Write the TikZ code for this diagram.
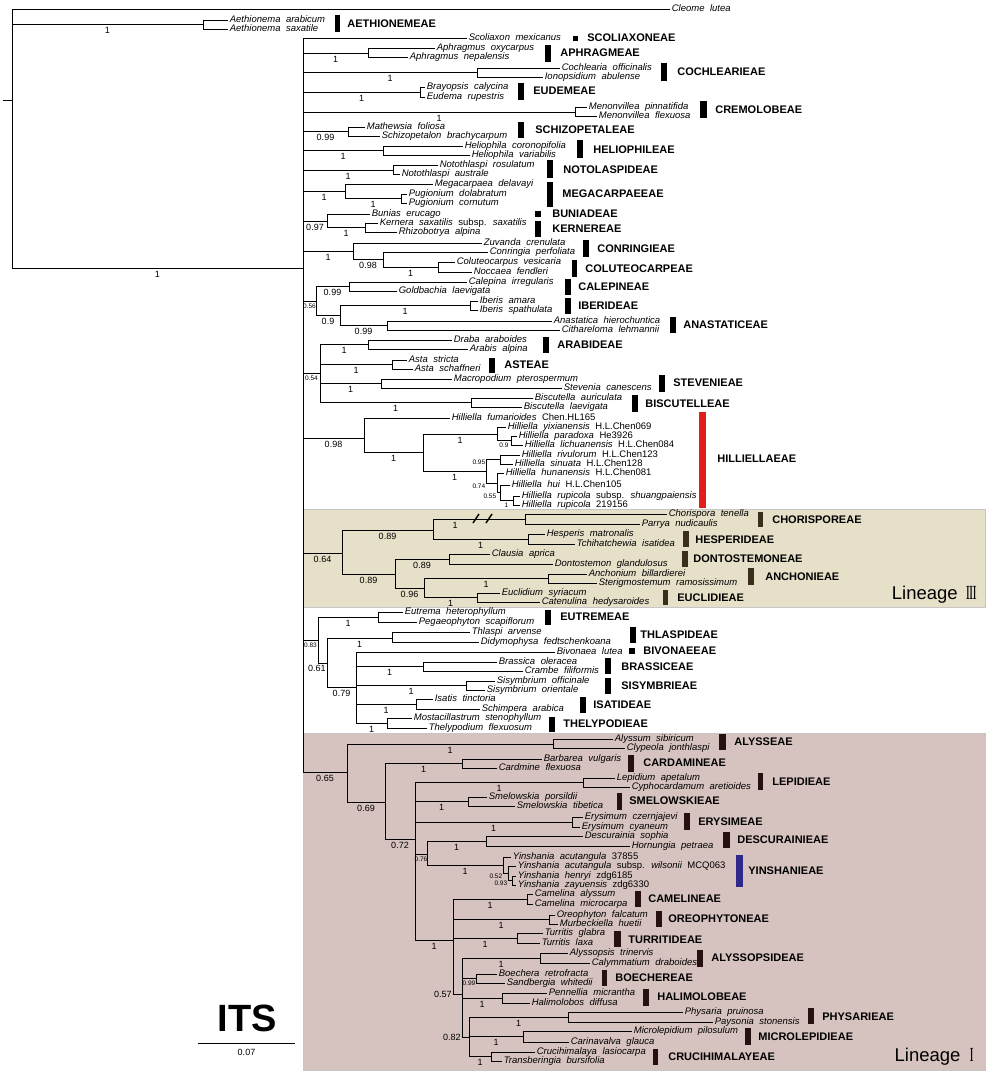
\documentclass[tikz,border=0pt]{standalone}
\usepackage{fontspec}
\setmainfont{Liberation Sans}
\newfontfamily\numfont{Liberation Serif}
\definecolor{boxIII}{RGB}{230,224,201}
\definecolor{boxI}{RGB}{214,195,192}
\definecolor{barIII}{RGB}{58,47,24}
\definecolor{barI}{RGB}{38,16,16}
\definecolor{hilred}{RGB}{226,30,28}
\definecolor{yinblue}{RGB}{48,40,138}
\newcommand{\ssp}{{\upshape subsp.}}
\newcommand{\vouch}[1]{{\upshape #1}}
\newcommand{\spfont}{\fontsize{9.5}{10}\selectfont\itshape\spaceskip 5.5pt plus 1pt\relax}
\newcommand{\linnum}[1]{{\numfont\fontsize{20}{21}\selectfont\scalebox{0.62}[1]{#1}}}
\tikzset{sp/.style={anchor=west, inner sep=1.5pt, text height=6.6pt, text depth=2pt, font=\spfont},
  tribe/.style={anchor=west, inner sep=0pt, font=\fontsize{11}{12}\selectfont\bfseries},
  bs/.style={pos=.75, below=1.5pt, inner sep=1pt, font=\fontsize{9}{10}\selectfont},
  bss/.style={bs, font=\fontsize{6.5}{7}\selectfont},
  bsl/.style={pos=.5, anchor=north east, inner sep=0.5pt, font=\fontsize{6.5}{7}\selectfont},
  bsw/.style={pos=.5, anchor=east, inner sep=1pt, font=\fontsize{9}{10}\selectfont},
  tbar/.style={fill=black}, lbox/.style={draw=gray!45, line width=1pt},
  lin/.style={anchor=east, inner sep=0pt, font=\fontsize{18.5}{20}\selectfont},
  brk/.style={line width=1.5pt}}

\begin{document}
\begin{tikzpicture}[x=1pt, y=-1pt, line width=0.7pt]
\useasboundingbox (0,0) rectangle (1008,1084);
\fill[boxIII, lbox] (303,509) rectangle (985,607);
\fill[boxI, lbox] (303,733) rectangle (985,1070);
\node[lin] (LIII) at (977,595) {Lineage\hspace{8pt}\linnum{I\kern-1.2pt I\kern-1.2pt I}};
\node[lin] (LI) at (974,1057) {Lineage\hspace{9pt}\linnum{I}};

\coordinate (base) at (3,100);
\coordinate (root) at (12,100);
\draw (base) -- (root);
\node[sp] (cle) at (670,9) {Cleome lutea};
\draw (root) |- (cle.west);
\coordinate (aeth) at (203,24);
\draw (root) |- (aeth) node[bs]{1};
\node[sp] (aeth1) at (228,20) {Aethionema arabicum};
\node[sp] (aeth2) at (228,29) {Aethionema saxatile};
\draw (aeth) |- (aeth1.west);
\draw (aeth) |- (aeth2.west);
\coordinate (core) at (303,268);
\draw (root) |- (core) node[bs]{1};

\node[sp] (scol) at (467,38) {Scoliaxon mexicanus};
\draw (core) |- (scol.west);
\coordinate (aph) at (368,53);
\draw (core) |- (aph) node[bs]{1};
\node[sp] (aph1) at (435,48) {Aphragmus oxycarpus};
\node[sp] (aph2) at (408,57) {Aphragmus nepalensis};
\draw (aph) |- (aph1.west);
\draw (aph) |- (aph2.west);
\coordinate (coch) at (477,72);
\draw (core) |- (coch) node[bs]{1};
\node[sp] (coch1) at (560,68) {Cochlearia officinalis};
\node[sp] (coch2) at (543,77) {Ionopsidium abulense};
\draw (coch) |- (coch1.west);
\draw (coch) |- (coch2.west);
\coordinate (eud) at (420,92);
\draw (core) |- (eud) node[bs]{1};
\node[sp] (eud1) at (425,87) {Brayopsis calycina};
\node[sp] (eud2) at (425,97) {Eudema rupestris};
\draw (eud) |- (eud1.west);
\draw (eud) |- (eud2.west);
\coordinate (men) at (575,112);
\draw (core) |- (men) node[bs]{1};
\node[sp] (men1) at (587,107) {Menonvillea pinnatifida};
\node[sp] (men2) at (597,116) {Menonvillea flexuosa};
\draw (men) |- (men1.west);
\draw (men) |- (men2.west);
\coordinate (sch) at (348,131);
\draw (core) |- (sch) node[bs]{0.99};
\node[sp] (sch1) at (365,127) {Mathewsia foliosa};
\node[sp] (sch2) at (380,136) {Schizopetalon brachycarpum};
\draw (sch) |- (sch1.west);
\draw (sch) |- (sch2.west);
\coordinate (hel) at (383,150);
\draw (core) |- (hel) node[bs]{1};
\node[sp] (hel1) at (463,146) {Heliophila coronopifolia};
\node[sp] (hel2) at (470,155) {Heliophila variabilis};
\draw (hel) |- (hel1.west);
\draw (hel) |- (hel2.west);
\coordinate (not) at (393,170);
\draw (core) |- (not) node[bs]{1};
\node[sp] (not1) at (438,165) {Notothlaspi rosulatum};
\node[sp] (not2) at (400,174) {Notothlaspi australe};
\draw (not) |- (not1.west);
\draw (not) |- (not2.west);
\coordinate (meg) at (345,191);
\draw (core) |- (meg) node[bs]{1};
\node[sp] (meg1) at (433,184) {Megacarpaea delavayi};
\draw (meg) |- (meg1.west);
\coordinate (pug) at (401,198.5);
\draw (meg) |- (pug) node[bs]{1};
\node[sp] (pug1) at (407,194) {Pugionium dolabratum};
\node[sp] (pug2) at (407,203) {Pugionium cornutum};
\draw (pug) |- (pug1.west);
\draw (pug) |- (pug2.west);
\coordinate (bk) at (327,221);
\draw (core) |- (bk) node[bs]{0.97};
\node[sp] (bun) at (370,214) {Bunias erucago};
\draw (bk) |- (bun.west);
\coordinate (ker) at (365,227.5);
\draw (bk) |- (ker) node[bs]{1};
\node[sp] (ker1) at (378,223) {Kernera saxatilis \ssp{} saxatilis};
\node[sp] (ker2) at (397,232) {Rhizobotrya alpina};
\draw (ker) |- (ker1.west);
\draw (ker) |- (ker2.west);
\coordinate (conr) at (353,251);
\draw (core) |- (conr) node[bs]{1};
\node[sp] (zuv) at (482,243) {Zuvanda crenulata};
\draw (conr) |- (zuv.west);
\coordinate (c98) at (383,259.5);
\draw (conr) |- (c98) node[bs]{0.98};
\node[sp] (con) at (488,252) {Conringia perfoliata};
\draw (c98) |- (con.west);
\coordinate (col) at (438,267);
\draw (c98) |- (col) node[bs]{1};
\node[sp] (col1) at (455,262) {Coluteocarpus vesicaria};
\node[sp] (col2) at (472,272) {Noccaea fendleri};
\draw (col) |- (col1.west);
\draw (col) |- (col2.west);
\coordinate (c56) at (316,301);
\draw (core) |- (c56) node[bss]{0.56};
\coordinate (cal) at (349,286.5);
\draw (c56) |- (cal) node[bs]{0.99};
\node[sp] (cal1) at (467,282) {Calepina irregularis};
\node[sp] (cal2) at (397,291) {Goldbachia laevigata};
\draw (cal) |- (cal1.west);
\draw (cal) |- (cal2.west);
\coordinate (c90) at (340,315.5);
\draw (c56) |- (c90) node[bs]{0.9};
\coordinate (ibe) at (470,305.5);
\draw (c90) |- (ibe) node[bs]{1};
\node[sp] (ibe1) at (478,301) {Iberis amara};
\node[sp] (ibe2) at (478,310) {Iberis spathulata};
\draw (ibe) |- (ibe1.west);
\draw (ibe) |- (ibe2.west);
\coordinate (ana) at (387,325.5);
\draw (c90) |- (ana) node[bs]{0.99};
\node[sp] (ana1) at (552,321) {Anastatica hierochuntica};
\node[sp] (ana2) at (560,330) {Cithareloma lehmannii};
\draw (ana) |- (ana1.west);
\draw (ana) |- (ana2.west);
\coordinate (c54) at (320,373.5);
\draw (core) |- (c54) node[bss]{0.54};
\coordinate (ara) at (368,344.5);
\draw (c54) |- (ara) node[bs]{1};
\node[sp] (ara1) at (452,340) {Draba araboides};
\node[sp] (ara2) at (468,349) {Arabis alpina};
\draw (ara) |- (ara1.west);
\draw (ara) |- (ara2.west);
\coordinate (ast) at (392,364.5);
\draw (c54) |- (ast) node[bs]{1};
\node[sp] (ast1) at (407,360) {Asta stricta};
\node[sp] (ast2) at (413,369) {Asta schaffneri};
\draw (ast) |- (ast1.west);
\draw (ast) |- (ast2.west);
\coordinate (ste) at (381,383.5);
\draw (c54) |- (ste) node[bs]{1};
\node[sp] (ste1) at (452,379) {Macropodium pterospermum};
\node[sp] (ste2) at (562,388) {Stevenia canescens};
\draw (ste) |- (ste1.west);
\draw (ste) |- (ste2.west);
\coordinate (bis) at (471,402.5);
\draw (c54) |- (bis) node[bs]{1};
\node[sp] (bis1) at (533,398) {Biscutella auriculata};
\node[sp] (bis2) at (522,407) {Biscutella laevigata};
\draw (bis) |- (bis1.west);
\draw (bis) |- (bis2.west);

\coordinate (hil) at (364,438);
\draw (core) |- (hil) node[bs]{0.98};
\node[sp] (hil1) at (450,418) {Hilliella fumarioides \vouch{Chen.HL165}};
\draw (hil) |- (hil1.west);
\coordinate (hin) at (423,452.5);
\draw (hil) |- (hin) node[bs]{1};
\coordinate (ha) at (497,434);
\draw (hin) |- (ha) node[bs]{1};
\node[sp] (hil2) at (506,427) {Hilliella yixianensis \vouch{H.L.Chen069}};
\draw (ha) |- (hil2.west);
\coordinate (ha2) at (511,440.5);
\draw (ha) |- (ha2) node[bss]{0.9};
\node[sp] (hil3) at (517,436) {Hilliella paradoxa \vouch{He3926}};
\node[sp] (hil4) at (523,445) {Hilliella lichuanensis \vouch{H.L.Chen084}};
\draw (ha2) |- (hil3.west);
\draw (ha2) |- (hil4.west);
\coordinate (hb) at (486,471);
\draw (hin) |- (hb) node[bs]{1};
\coordinate (hb1) at (500,459.5);
\draw (hb) |- (hb1) node[bsl]{0.95};
\node[sp] (hil5) at (520,455) {Hilliella rivulorum \vouch{H.L.Chen123}};
\node[sp] (hil6) at (513,464) {Hilliella sinuata \vouch{H.L.Chen128}};
\draw (hb1) |- (hil5.west);
\draw (hb1) |- (hil6.west);
\coordinate (hb2) at (497,483);
\draw (hb) |- (hb2) node[bsl]{0.74};
\node[sp] (hil7) at (504,473) {Hilliella hunanensis \vouch{H.L.Chen081}};
\draw (hb2) |- (hil7.west);
\coordinate (hb3) at (500,492.75);
\draw (hb2) |- (hb3) node[bsl]{0.55};
\node[sp] (hil8) at (510,485) {Hilliella hui \vouch{H.L.Chen105}};
\draw (hb3) |- (hil8.west);
\coordinate (hb4) at (513,500.5);
\draw (hb3) |- (hb4) node[bss]{1};
\node[sp] (hil9) at (520,496) {Hilliella rupicola \ssp{} shuangpaiensis};
\node[sp] (hil10) at (520,505) {Hilliella rupicola \vouch{219156}};
\draw (hb4) |- (hil9.west);
\draw (hb4) |- (hil10.west);

\coordinate (c64) at (342,553);
\draw (core) |- (c64) node[bs]{0.64};
\coordinate (c89a) at (433,530);
\draw (c64) |- (c89a) node[bs]{0.89};
\coordinate (cho) at (525,519);
\draw (c89a) |- (cho) node[bs, pos=.62]{1};
\draw[brk] (473,523) -- (479,514);
\draw[brk] (486,523) -- (492,514);
\node[sp] (cho1) at (667,514) {Chorispora tenella};
\node[sp] (cho2) at (640,524) {Parrya nudicaulis};
\draw (cho) |- (cho1.west);
\draw (cho) |- (cho2.west);
\coordinate (hes) at (528,539);
\draw (c89a) |- (hes) node[bs]{1};
\node[sp] (hes1) at (545,534) {Hesperis matronalis};
\node[sp] (hes2) at (575,544) {Tchihatchewia isatidea};
\draw (hes) |- (hes1.west);
\draw (hes) |- (hes2.west);
\coordinate (c89b) at (395,574);
\draw (c64) |- (c89b) node[bs]{0.89};
\coordinate (don) at (449,559);
\draw (c89b) |- (don) node[bs]{0.89};
\node[sp] (don1) at (490,554) {Clausia aprica};
\node[sp] (don2) at (553,564) {Dontostemon glandulosus};
\draw (don) |- (don1.west);
\draw (don) |- (don2.west);
\coordinate (c96) at (424,588);
\draw (c89b) |- (c96) node[bs]{0.96};
\coordinate (anc) at (548,578.5);
\draw (c96) |- (anc) node[bs]{1};
\node[sp] (anc1) at (587,574) {Anchonium billardierei};
\node[sp] (anc2) at (597,583) {Sterigmostemum ramosissimum};
\draw (anc) |- (anc1.west);
\draw (anc) |- (anc2.west);
\coordinate (euc) at (477,597.5);
\draw (c96) |- (euc) node[bs]{1};
\node[sp] (euc1) at (500,593) {Euclidium syriacum};
\node[sp] (euc2) at (540,602) {Catenulina hedysaroides};
\draw (euc) |- (euc1.west);
\draw (euc) |- (euc2.west);

\coordinate (c83) at (318,640);
\draw (core) |- (c83) node[bss]{0.83};
\coordinate (eut) at (378,617);
\draw (c83) |- (eut) node[bs]{1};
\node[sp] (eut1) at (403,612) {Eutrema heterophyllum};
\node[sp] (eut2) at (417,622) {Pegaeophyton scapiflorum};
\draw (eut) |- (eut1.west);
\draw (eut) |- (eut2.west);
\coordinate (c61) at (327,663);
\draw (c83) |- (c61) node[pos=1, anchor=north east, inner sep=1pt, yshift=-1pt, font=\fontsize{9}{10}\selectfont]{0.61};
\coordinate (thl) at (392,638);
\draw (c61) |- (thl) node[bs]{1};
\node[sp] (thl1) at (470,632) {Thlaspi arvense};
\node[sp] (thl2) at (479,642) {Didymophysa fedtschenkoana};
\draw (thl) |- (thl1.west);
\draw (thl) |- (thl2.west);
\coordinate (c79) at (356,687);
\draw (c61) |- (c79) node[bs]{0.79};
\node[sp] (biv) at (555,652) {Bivonaea lutea};
\draw (c79) |- (biv.west);
\coordinate (bra) at (423,666.5);
\draw (c79) |- (bra) node[bs]{1};
\node[sp] (bra1) at (497,662) {Brassica oleracea};
\node[sp] (bra2) at (523,671) {Crambe filiformis};
\draw (bra) |- (bra1.west);
\draw (bra) |- (bra2.west);
\coordinate (sis) at (466,685);
\draw (c79) |- (sis) node[bs]{1};
\node[sp] (sis1) at (495,681) {Sisymbrium officinale};
\node[sp] (sis2) at (485,690) {Sisymbrium orientale};
\draw (sis) |- (sis1.west);
\draw (sis) |- (sis2.west);
\coordinate (isa) at (416,704);
\draw (c79) |- (isa) node[bs]{1};
\node[sp] (isa1) at (433,699) {Isatis tinctoria};
\node[sp] (isa2) at (480,709) {Schimpera arabica};
\draw (isa) |- (isa1.west);
\draw (isa) |- (isa2.west);
\coordinate (the) at (387,723);
\draw (c79) |- (the) node[bs]{1};
\node[sp] (the1) at (412,718) {Mostacillastrum stenophyllum};
\node[sp] (the2) at (427,728) {Thelypodium flexuosum};
\draw (the) |- (the1.west);
\draw (the) |- (the2.west);

\coordinate (c65) at (347,772);
\draw (core) |- (c65) node[bs]{0.65};
\coordinate (aly) at (553,744);
\draw (c65) |- (aly) node[bs]{1};
\node[sp] (aly1) at (613,739) {Alyssum sibiricum};
\node[sp] (aly2) at (625,748) {Clypeola jonthlaspi};
\draw (aly) |- (aly1.west);
\draw (aly) |- (aly2.west);
\coordinate (c69) at (385,802);
\draw (c65) |- (c69) node[bs]{0.69};
\coordinate (car) at (462,763.5);
\draw (c69) |- (car) node[bs]{1};
\node[sp] (car1) at (542,759) {Barbarea vulgaris};
\node[sp] (car2) at (497,768) {Cardmine flexuosa};
\draw (car) |- (car1.west);
\draw (car) |- (car2.west);
\coordinate (c72) at (415,839);
\draw (c69) |- (c72) node[bs]{0.72};
\coordinate (lep) at (583,782.5);
\draw (c72) |- (lep) node[bs]{1};
\node[sp] (lep1) at (615,778) {Lepidium apetalum};
\node[sp] (lep2) at (630,787) {Cyphocardamum aretioides};
\draw (lep) |- (lep1.west);
\draw (lep) |- (lep2.west);
\coordinate (sme) at (468,801.5);
\draw (c72) |- (sme) node[bs]{1};
\node[sp] (sme1) at (487,797) {Smelowskia porsildii};
\node[sp] (sme2) at (515,806) {Smelowskia tibetica};
\draw (sme) |- (sme1.west);
\draw (sme) |- (sme2.west);
\coordinate (ery) at (572,822);
\draw (c72) |- (ery) node[bs]{1};
\node[sp] (ery1) at (583,817) {Erysimum czernjajevi};
\node[sp] (ery2) at (580,827) {Erysimum cyaneum};
\draw (ery) |- (ery1.west);
\draw (ery) |- (ery2.west);
\coordinate (c76) at (427,854);
\draw (c72) |- (c76) node[bss]{0.76};
\coordinate (des) at (486,841);
\draw (c76) |- (des) node[bs]{1};
\node[sp] (des1) at (583,836) {Descurainia sophia};
\node[sp] (des2) at (630,846) {Hornungia petraea};
\draw (des) |- (des1.west);
\draw (des) |- (des2.west);
\coordinate (yin) at (503,865);
\draw (c76) |- (yin) node[bs]{1};
\node[sp] (yin1) at (511,857) {Yinshania acutangula \vouch{37855}};
\draw (yin) |- (yin1.west);
\coordinate (yin2) at (508,873);
\draw (yin) |- (yin2) node[bsl]{0.52};
\node[sp] (yin2a) at (516,866) {Yinshania acutangula \ssp{} wilsonii \vouch{MCQ063}};
\draw (yin2) |- (yin2a.west);
\coordinate (yin3) at (512,880.5);
\draw (yin2) |- (yin3) node[bsl]{0.93};
\node[sp] (yin3a) at (516,876) {Yinshania henryi \vouch{zdg6185}};
\node[sp] (yin3b) at (516,885) {Yinshania zayuensis \vouch{zdg6330}};
\draw (yin3) |- (yin3a.west);
\draw (yin3) |- (yin3b.west);
\coordinate (cD) at (453,940);
\draw (c72) |- (cD) node[bs]{1};
\coordinate (cam) at (527,899);
\draw (cD) |- (cam) node[bs]{1};
\node[sp] (cam1) at (533,894) {Camelina alyssum};
\node[sp] (cam2) at (533,904) {Camelina microcarpa};
\draw (cam) |- (cam1.west);
\draw (cam) |- (cam2.west);
\coordinate (ore) at (549,919.5);
\draw (cD) |- (ore) node[bs]{1};
\node[sp] (ore1) at (555,915) {Oreophyton falcatum};
\node[sp] (ore2) at (558,924) {Murbeckiella huetii};
\draw (ore) |- (ore1.west);
\draw (ore) |- (ore2.west);
\coordinate (tur) at (517,938);
\draw (cD) |- (tur) node[bs]{1};
\node[sp] (tur1) at (543,933) {Turritis glabra};
\node[sp] (tur2) at (540,943) {Turritis laxa};
\draw (tur) |- (tur1.west);
\draw (tur) |- (tur2.west);
\coordinate (c57) at (462,994);
\draw (cD) |- (c57) node[bsw]{0.57};
\coordinate (als) at (540,958);
\draw (c57) |- (als) node[bs]{1};
\node[sp] (als1) at (568,953) {Alyssopsis trinervis};
\node[sp] (als2) at (590,963) {Calymmatium draboides};
\draw (als) |- (als1.west);
\draw (als) |- (als2.west);
\coordinate (boe) at (476,978.5);
\draw (c57) |- (boe) node[bss]{0.99};
\node[sp] (boe1) at (497,974) {Boechera retrofracta};
\node[sp] (boe2) at (505,983) {Sandbergia whitedii};
\draw (boe) |- (boe1.west);
\draw (boe) |- (boe2.west);
\coordinate (hal) at (502,998);
\draw (c57) |- (hal) node[bs]{1};
\node[sp] (hal1) at (547,993) {Pennellia micrantha};
\node[sp] (hal2) at (530,1003) {Halimolobos diffusa};
\draw (hal) |- (hal1.west);
\draw (hal) |- (hal2.west);
\coordinate (c82) at (469,1037);
\draw (c57) |- (c82) node[bsw]{0.82};
\coordinate (phy) at (568,1017);
\draw (c82) |- (phy) node[bs]{1};
\node[sp] (phy1) at (683,1012) {Physaria pruinosa};
\node[sp] (phy2) at (713,1022) {Paysonia stonensis};
\draw (phy) |- (phy1.west);
\draw (phy) |- (phy2.west);
\coordinate (mic) at (523,1036.5);
\draw (c82) |- (mic) node[bs]{1};
\node[sp] (mic1) at (632,1031) {Microlepidium pilosulum};
\node[sp] (mic2) at (569,1042) {Carinavalva glauca};
\draw (mic) |- (mic1.west);
\draw (mic) |- (mic2.west);
\coordinate (cru) at (491,1056.5);
\draw (c82) |- (cru) node[bs]{1};
\node[sp] (cru1) at (535,1052) {Crucihimalaya lasiocarpa};
\node[sp] (cru2) at (502,1061) {Transberingia bursifolia};
\draw (cru) |- (cru1.west);
\draw (cru) |- (cru2.west);

\fill[tbar] (335,15) rectangle (340,32);
\node[tribe] (AETH) at (347,24) {AETHIONEMEAE};
\fill[tbar] (573,36) rectangle (578,41);
\node[tribe] (SCOL) at (587,38) {SCOLIAXONEAE};
\fill[tbar] (545,45) rectangle (551,62);
\node[tribe] (APHR) at (560,53) {APHRAGMEAE};
\fill[tbar] (661,63) rectangle (667,81);
\node[tribe] (COCH) at (677,72) {COCHLEARIEAE};
\fill[tbar] (518,83) rectangle (524,100);
\node[tribe] (EUDE) at (533,91) {EUDEMEAE};
\fill[tbar] (700,101) rectangle (707,118);
\node[tribe] (CREM) at (715,110) {CREMOLOBEAE};
\fill[tbar] (518,122) rectangle (524,138);
\node[tribe] (SCHI) at (535,130) {SCHIZOPETALEAE};
\fill[tbar] (577,140) rectangle (583,158);
\node[tribe] (HELI) at (593,150) {HELIOPHILEAE};
\fill[tbar] (547,160) rectangle (553,178);
\node[tribe] (NOTO) at (563,170) {NOTOLASPIDEAE};
\fill[tbar] (547,182) rectangle (553,207);
\node[tribe] (MEGA) at (562,194) {MEGACARPAEEAE};
\fill[tbar] (535,211) rectangle (541,217);
\node[tribe] (BUNI) at (552,214) {BUNIADEAE};
\fill[tbar] (535,221) rectangle (541,237);
\node[tribe] (KERN) at (552,229) {KERNEREAE};
\fill[tbar] (583,240) rectangle (589,257);
\node[tribe] (CONR) at (597,249) {CONRINGIEAE};
\fill[tbar] (572,260) rectangle (577,277);
\node[tribe] (COLU) at (585,269) {COLUTEOCARPEAE};
\fill[tbar] (565,279) rectangle (571,295);
\node[tribe] (CALE) at (578,287) {CALEPINEAE};
\fill[tbar] (565,298) rectangle (571,314);
\node[tribe] (IBER) at (578,306) {IBERIDEAE};
\fill[tbar] (670,317) rectangle (676,333);
\node[tribe] (ANAS) at (683,325) {ANASTATICEAE};
\fill[tbar] (543,337) rectangle (549,353);
\node[tribe] (ARAB) at (557,345) {ARABIDEAE};
\fill[tbar] (489,358) rectangle (495,373);
\node[tribe] (ASTE) at (504,365) {ASTEAE};
\fill[tbar] (659,375) rectangle (665,392);
\node[tribe] (STEV) at (673,383) {STEVENIEAE};
\fill[tbar] (632,395) rectangle (638,412);
\node[tribe] (BISC) at (645,404) {BISCUTELLEAE};
\fill[hilred] (699,412) rectangle (706,508);
\node[tribe] (HILL) at (717,459) {HILLIELLAEAE};
\fill[barIII] (758,512) rectangle (763,527);
\node[tribe] (CHOR) at (772,520) {CHORISPOREAE};
\fill[barIII] (683,531) rectangle (689,547);
\node[tribe] (HESP) at (695,540) {HESPERIDEAE};
\fill[barIII] (682,551) rectangle (688,567);
\node[tribe] (DONT) at (693,559) {DONTOSTEMONEAE};
\fill[barIII] (748,568) rectangle (754,585);
\node[tribe] (ANCH) at (765,577) {ANCHONIEAE};
\fill[barIII] (663,590) rectangle (668,605);
\node[tribe] (EUCL) at (677,598) {EUCLIDIEAE};
\fill[tbar] (545,610) rectangle (551,625);
\node[tribe] (EUTR) at (560,617) {EUTREMEAE};
\fill[tbar] (630,627) rectangle (636,643);
\node[tribe] (THLA) at (640,635) {THLASPIDEAE};
\fill[tbar] (629,648) rectangle (635,654);
\node[tribe] (BIVO) at (643,651) {BIVONAEEAE};
\fill[tbar] (605,658) rectangle (611,674);
\node[tribe] (BRAS) at (621,667) {BRASSICEAE};
\fill[tbar] (605,678) rectangle (611,694);
\node[tribe] (SISY) at (621,686) {SISYMBRIEAE};
\fill[tbar] (580,697) rectangle (586,713);
\node[tribe] (ISAT) at (593,705) {ISATIDEAE};
\fill[tbar] (549,717) rectangle (555,732);
\node[tribe] (THEL) at (563,724) {THELYPODIEAE};
\fill[barI] (719,734) rectangle (726,750);
\node[tribe] (ALYS) at (734,742) {ALYSSEAE};
\fill[barI] (628,755) rectangle (634,772);
\node[tribe] (CARD) at (643,763) {CARDAMINEAE};
\fill[barI] (758,773) rectangle (763,790);
\node[tribe] (LEPI) at (772,782) {LEPIDIEAE};
\fill[barI] (617,793) rectangle (622,810);
\node[tribe] (SMEL) at (629,801) {SMELOWSKIEAE};
\fill[barI] (684,813) rectangle (690,830);
\node[tribe] (ERYS) at (698,822) {ERYSIMEAE};
\fill[barI] (723,832) rectangle (730,848);
\node[tribe] (DESC) at (737,840) {DESCURAINIEAE};
\fill[yinblue] (736,855) rectangle (743,887);
\node[tribe] (YINS) at (748,871) {YINSHANIEAE};
\fill[barI] (635,891) rectangle (641,907);
\node[tribe] (CAME) at (648,899) {CAMELINEAE};
\fill[barI] (656,911) rectangle (662,927);
\node[tribe] (OREO) at (668,919) {OREOPHYTONEAE};
\fill[barI] (614,931) rectangle (621,947);
\node[tribe] (TURR) at (628,940) {TURRITIDEAE};
\fill[barI] (697,950) rectangle (703,967);
\node[tribe] (ALSS) at (711,958) {ALYSSOPSIDEAE};
\fill[barI] (602,970) rectangle (607,986);
\node[tribe] (BOEC) at (615,978) {BOECHEREAE};
\fill[barI] (643,989) rectangle (649,1006);
\node[tribe] (HALI) at (657,997) {HALIMOLOBEAE};
\fill[barI] (808,1008) rectangle (814,1024);
\node[tribe] (PHYS) at (822,1017) {PHYSARIEAE};
\fill[barI] (745,1028) rectangle (751,1045);
\node[tribe] (MICR) at (758,1037) {MICROLEPIDIEAE};
\fill[barI] (653,1049) rectangle (658,1065);
\node[tribe] (CRUC) at (668,1057) {CRUCIHIMALAYEAE};

\node[font=\fontsize{38}{40}\selectfont\bfseries, inner sep=0pt] (ITS) at (247,1018) {ITS};
\coordinate (sb1) at (198,1043);
\coordinate (sb2) at (295,1043);
\draw (sb1) -- (sb2) node[midway, below=5pt, inner sep=1pt, font=\fontsize{9}{10}\selectfont] (sbl) {0.07};
\end{tikzpicture}
\end{document}
